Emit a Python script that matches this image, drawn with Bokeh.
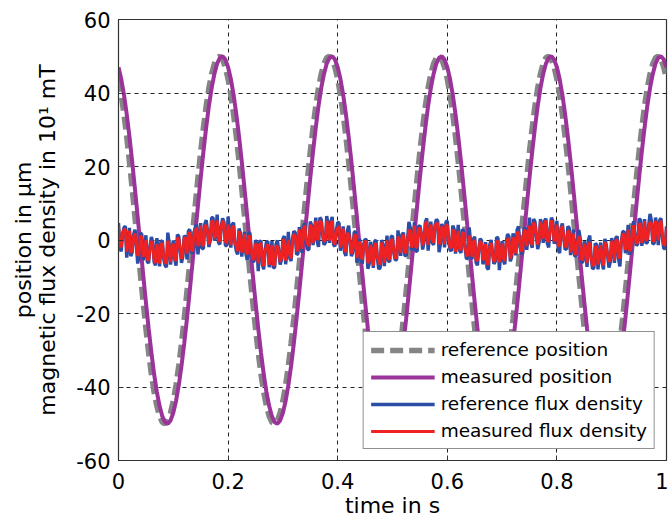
from bokeh.plotting import figure
from bokeh.models import Range1d, FixedTicker, Legend, LegendItem, LinearAxis
from bokeh.embed import file_html
from bokeh.resources import INLINE

# ---------------- data ----------------
# sampling grids of the recorded signals (s)
time_position = [round(i * 0.005, 4) for i in range(201)]
time_flux = [round(i * 0.0025, 4) for i in range(401)]

reference_position = [
    43.8, 39.5, 34.2, 28.1, 21.3, 13.9, 6.3, -1.6, -9.4, -16.9, -24.1, -30.6, -36.5, -41.4, -45.2, -48.0, -49.6, -50.0, -49.1, -47.0,
    -43.8, -39.5, -34.2, -28.1, -21.3, -13.9, -6.3, 1.6, 9.4, 16.9, 24.1, 30.6, 36.5, 41.4, 45.2, 48.0, 49.6, 50.0, 49.1, 47.0,
    43.8, 39.5, 34.2, 28.1, 21.3, 13.9, 6.3, -1.6, -9.4, -16.9, -24.1, -30.6, -36.5, -41.4, -45.2, -48.0, -49.6, -50.0, -49.1, -47.0,
    -43.8, -39.5, -34.2, -28.1, -21.3, -13.9, -6.3, 1.6, 9.4, 16.9, 24.1, 30.6, 36.5, 41.4, 45.2, 48.0, 49.6, 50.0, 49.1, 47.0,
    43.8, 39.5, 34.2, 28.1, 21.3, 13.9, 6.3, -1.6, -9.4, -16.9, -24.1, -30.6, -36.5, -41.4, -45.2, -48.0, -49.6, -50.0, -49.1, -47.0,
    -43.8, -39.5, -34.2, -28.1, -21.3, -13.9, -6.3, 1.6, 9.4, 16.9, 24.1, 30.6, 36.5, 41.4, 45.2, 48.0, 49.6, 50.0, 49.1, 47.0,
    43.8, 39.5, 34.2, 28.1, 21.3, 13.9, 6.3, -1.6, -9.4, -16.9, -24.1, -30.6, -36.5, -41.4, -45.2, -48.0, -49.6, -50.0, -49.1, -47.0,
    -43.8, -39.5, -34.2, -28.1, -21.3, -13.9, -6.3, 1.6, 9.4, 16.9, 24.1, 30.6, 36.5, 41.4, 45.2, 48.0, 49.6, 50.0, 49.1, 47.0,
    43.8, 39.5, 34.2, 28.1, 21.3, 13.9, 6.3, -1.6, -9.4, -16.9, -24.1, -30.6, -36.5, -41.4, -45.2, -48.0, -49.6, -50.0, -49.1, -47.0,
    -43.8, -39.5, -34.2, -28.1, -21.3, -13.9, -6.3, 1.6, 9.4, 16.9, 24.1, 30.6, 36.5, 41.4, 45.2, 48.0, 49.6, 50.0, 49.1, 47.0,
    43.8,
]

measured_position = [
    47.0, 43.8, 39.5, 34.2, 28.1, 21.3, 13.9, 6.3, -1.6, -9.4, -16.9, -24.1, -30.6, -36.5, -41.4, -45.2, -48.0, -49.6, -50.0, -49.1,
    -47.0, -43.8, -39.5, -34.2, -28.1, -21.3, -13.9, -6.3, 1.6, 9.4, 16.9, 24.1, 30.6, 36.5, 41.4, 45.2, 48.0, 49.6, 50.0, 49.1,
    47.0, 43.8, 39.5, 34.2, 28.1, 21.3, 13.9, 6.3, -1.6, -9.4, -16.9, -24.1, -30.6, -36.5, -41.4, -45.2, -48.0, -49.6, -50.0, -49.1,
    -47.0, -43.8, -39.5, -34.2, -28.1, -21.3, -13.9, -6.3, 1.6, 9.4, 16.9, 24.1, 30.6, 36.5, 41.4, 45.2, 48.0, 49.6, 50.0, 49.1,
    47.0, 43.8, 39.5, 34.2, 28.1, 21.3, 13.9, 6.3, -1.6, -9.4, -16.9, -24.1, -30.6, -36.5, -41.4, -45.2, -48.0, -49.6, -50.0, -49.1,
    -47.0, -43.8, -39.5, -34.2, -28.1, -21.3, -13.9, -6.3, 1.6, 9.4, 16.9, 24.1, 30.6, 36.5, 41.4, 45.2, 48.0, 49.6, 50.0, 49.1,
    47.0, 43.8, 39.5, 34.2, 28.1, 21.3, 13.9, 6.3, -1.6, -9.4, -16.9, -24.1, -30.6, -36.5, -41.4, -45.2, -48.0, -49.6, -50.0, -49.1,
    -47.0, -43.8, -39.5, -34.2, -28.1, -21.3, -13.9, -6.3, 1.6, 9.4, 16.9, 24.1, 30.6, 36.5, 41.4, 45.2, 48.0, 49.6, 50.0, 49.1,
    47.0, 43.8, 39.5, 34.2, 28.1, 21.3, 13.9, 6.3, -1.6, -9.4, -16.9, -24.1, -30.6, -36.5, -41.4, -45.2, -48.0, -49.6, -50.0, -49.1,
    -47.0, -43.8, -39.5, -34.2, -28.1, -21.3, -13.9, -6.3, 1.6, 9.4, 16.9, 24.1, 30.6, 36.5, 41.4, 45.2, 48.0, 49.6, 50.0, 49.1,
    47.0,
]

reference_flux = [
    4.6, -1.9, -3.1, 1.8, 3.3, 3.8, -4.8, -1.4, 3.3, -4.4, -3.3, 1.5, 2.8, -1.2, -6.4, -4.3, 1.9, 1.5, -5.5, -3.6,
    1.3, -5.9, -6.3, -1.6, 0.8, -0.6, -6.0, -6.9, 0.5, -2.8, -7.2, -0.4, -0.2, -5.1, -6.9, -7.4, 2.0, -0.9, -6.7, -2.7,
    -0.1, -5.1, -7.0, 1.5, 1.0, -2.8, -6.2, -4.4, 1.2, 0.8, -5.3, 2.4, 2.9, -3.2, -3.7, 1.4, 3.4, 4.2, -3.9, -0.1,
    4.6, -2.3, -2.3, 4.3, 5.4, 2.3, -1.9, -0.1, 6.1, 6.1, -0.2, 1.4, 6.9, -0.7, -1.2, 3.8, 5.9, 4.8, -1.4, -1.6,
    6.4, 2.2, -2.1, 4.2, 4.7, -0.9, -3.0, -3.9, 3.1, 1.9, -4.5, -0.7, 2.2, -3.8, -5.5, 1.9, 1.9, -3.2, -6.0, -5.7,
    0.0, -1.2, -8.5, -0.4, -0.3, -6.7, -8.0, -2.8, -0.5, -0.4, -7.4, -5.1, -0.3, -7.6, -7.4, -1.1, -0.1, -3.1, -6.7, -5.3,
    0.3, 1.1, -6.6, -3.2, 2.2, -4.9, -5.7, 0.3, 2.4, 2.0, -4.0, -3.7, 3.5, 0.9, -3.5, 3.8, 4.5, -0.5, -2.6, -2.6,
    5.0, 4.0, -1.4, 2.1, 6.1, -0.3, -1.9, 6.1, 5.6, 1.4, -1.3, -0.7, 6.5, 4.0, -0.8, 5.0, 6.3, -1.3, -1.7, 2.5,
    4.8, 4.6, -2.9, -0.5, 3.7, -3.4, -4.3, 2.4, 3.9, -0.3, -4.4, -3.3, 2.0, 2.4, -6.2, -2.8, 0.3, -5.3, -6.4, -1.0,
    0.2, 0.0, -7.8, -6.5, -0.5, -2.6, -7.6, -0.4, 0.0, -5.1, -7.9, -7.6, 0.0, -1.3, -7.1, -3.3, 1.2, -5.7, -5.9, 0.9,
    1.1, -3.6, -5.5, -5.3, 2.6, -0.2, -4.3, 1.5, 2.0, -4.1, -4.4, 0.4, 4.9, 3.3, -2.8, -0.9, 4.8, -3.0, -3.1, 3.7,
    3.9, 1.8, -2.6, -0.5, 4.9, 5.9, -2.9, 1.4, 5.0, -0.7, -1.3, 4.0, 5.6, 5.2, -3.3, -1.1, 4.4, 2.8, -2.0, 4.9,
    5.2, -0.1, -2.7, -3.0, 3.9, 2.9, -3.7, 0.2, 4.1, -2.9, -3.5, 2.9, 2.4, -2.3, -5.2, -4.9, 3.4, -0.6, -5.3, 0.2,
    0.9, -6.1, -6.9, -2.4, 0.4, -0.2, -6.6, -5.1, -0.6, -7.6, -8.0, -1.3, 0.0, -3.5, -6.5, -5.9, 0.8, 0.5, -8.2, -3.8,
    -0.3, -5.7, -6.6, -0.6, 1.6, 1.0, -5.8, -4.6, 1.8, 0.0, -4.2, 2.8, 3.7, -1.4, -3.9, -3.4, 3.0, 3.3, -2.7, 1.5,
    6.1, -0.8, -2.1, 5.7, 5.0, 1.2, -2.5, -0.7, 5.7, 4.0, -0.8, 5.2, 5.8, -0.9, -2.0, 3.0, 6.1, 5.2, -1.0, 0.2,
    5.2, -2.6, -3.6, 3.3, 4.5, 0.7, -2.6, -2.4, 3.7, 3.3, -4.1, -1.8, 2.8, -4.4, -4.4, -0.2, 2.7, 0.6, -6.2, -5.9,
    -0.4, -2.0, -7.3, 0.0, 1.2, -4.9, -7.8, -7.6, -0.9, -1.3, -8.0, -3.5, -0.7, -6.1, -8.0, 0.3, -1.2, -4.2, -7.5, -5.9,
    0.5, -1.0, -6.2, 0.6, 1.0, -5.1, -7.2, -0.5, 2.2, 2.4, -3.6, -1.9, 4.1, -3.9, -3.1, 2.9, 5.1, 1.1, -1.5, -1.1,
    5.8, 5.4, -1.6, 1.0, 5.7, -0.9, -0.7, 4.0, 7.1, 5.2, -1.1, -0.9, 6.1, 3.2, -1.4, 5.4, 5.9, 0.5, -2.3, -2.3,
    3.7,
]

measured_flux = [
    3.9, -1.2, -2.0, 1.6, 2.8, 3.0, -3.2, -1.1, 2.5, -3.5, -2.7, 0.9, 1.8, -1.3, -4.2, -3.8, 1.2, 0.6, -4.6, -3.4,
    0.0, -5.2, -5.6, -2.0, -0.3, -1.3, -5.5, -6.2, -1.1, -3.0, -6.4, -1.2, -0.8, -4.8, -5.9, -6.5, -0.2, -1.5, -6.0, -2.8,
    -1.0, -4.6, -5.7, 0.6, 0.3, -2.6, -5.1, -3.7, 0.7, 0.4, -3.7, 1.7, 2.1, -2.5, -3.1, 1.2, 2.4, 3.4, -1.7, 0.2,
    3.9, -1.4, -1.4, 3.7, 4.1, 2.2, -1.2, 0.4, 5.0, 5.2, 0.3, 1.6, 5.3, 0.0, -0.4, 3.4, 5.3, 4.1, -0.4, -0.9,
    4.2, 2.0, -1.4, 3.4, 3.8, -0.6, -1.7, -3.0, 2.4, 1.3, -3.4, -0.8, 1.7, -3.3, -3.9, 1.0, 1.1, -3.0, -5.4, -5.0,
    -1.0, -1.6, -6.3, -1.1, -1.0, -6.0, -7.1, -3.0, -1.8, -1.2, -6.7, -4.8, -1.4, -6.7, -6.9, -1.7, -1.7, -3.2, -5.9, -4.8,
    -0.3, 0.2, -5.6, -3.0, 0.0, -4.2, -5.0, -0.1, 1.5, 1.3, -2.7, -3.0, 2.8, 0.7, -2.4, 3.0, 4.0, -0.2, -1.0, -1.7,
    4.2, 3.4, -0.8, 2.0, 5.1, 0.2, 0.3, 5.2, 4.9, 1.6, -0.4, 0.0, 5.2, 3.6, -0.1, 4.3, 5.2, -0.6, -1.2, 2.3,
    3.2, 3.8, -2.1, -0.2, 3.1, -2.5, -3.3, 1.8, 1.7, -0.4, -3.7, -2.8, 1.1, 1.5, -4.9, -2.6, -0.4, -4.6, -5.3, -1.4,
    -0.3, -0.7, -6.2, -5.8, -1.3, -2.8, -7.0, -1.2, -1.0, -4.8, -5.7, -6.7, -0.7, -1.9, -6.2, -3.4, -0.1, -5.2, -5.2, 0.0,
    0.0, -3.4, -5.0, -4.6, 1.0, -0.6, -3.5, 0.8, 1.4, -3.4, -3.4, 0.2, 2.7, 2.5, -2.1, -0.6, 3.9, -2.1, -1.8, 3.1,
    3.2, 1.7, -1.5, 0.0, 4.4, 5.0, -1.3, 1.6, 4.2, 0.0, -0.7, 3.6, 4.6, 4.5, -1.1, -0.4, 3.7, 2.6, -1.1, 4.1,
    3.9, 0.2, -2.0, -2.1, 2.8, 2.3, -3.2, 0.1, 2.5, -2.4, -2.7, 2.0, 1.8, -2.1, -4.2, -4.2, 1.2, -1.0, -4.6, -0.5,
    0.0, -5.4, -5.6, -2.6, -0.3, -1.0, -5.5, -4.8, -1.1, -6.7, -6.4, -1.9, -0.8, -3.6, -5.9, -5.4, -0.2, -0.4, -6.0, -3.6,
    -1.0, -5.0, -5.7, -1.0, 0.3, 0.3, -5.1, -3.9, 0.7, -0.2, -3.7, 2.0, 2.1, -1.1, -3.1, -2.5, 2.4, 2.7, -1.7, 1.4,
    3.9, -0.3, -1.4, 4.8, 4.1, 1.4, -1.2, 0.0, 5.0, 3.6, 0.3, 4.5, 5.3, -0.2, -0.4, 2.8, 5.3, 4.4, -0.4, 0.5,
    4.2, -1.7, -1.4, 2.7, 3.8, 0.6, -1.7, -1.9, 2.4, 2.4, -3.4, -1.6, 1.7, -3.7, -3.9, -0.6, 1.1, -0.1, -5.4, -5.2,
    -1.0, -2.2, -6.3, -0.8, -1.0, -4.6, -7.1, -6.7, -1.8, -1.9, -6.7, -3.6, -1.4, -5.6, -6.9, -0.6, -1.7, -4.0, -5.9, -5.2,
    -0.3, -1.4, -5.6, -0.1, 0.0, -4.4, -5.0, -0.7, 1.5, 1.6, -2.7, -1.6, 2.8, -3.0, -2.4, 2.3, 4.0, 1.0, -1.0, -0.6,
    4.2, 4.5, -0.8, 1.2, 5.1, -0.2, 0.3, 3.6, 4.9, 4.5, -0.4, -0.2, 5.2, 3.0, -0.1, 4.6, 5.2, 0.8, -1.2, -1.4,
    3.2,
]

x_ticks = [0, 0.2, 0.4, 0.6, 0.8, 1]
x_tick_labels = ["0", "0.2", "0.4", "0.6", "0.8", "1"]
y_ticks = [-60, -40, -20, 0, 20, 40, 60]
y_tick_labels = ["-60", "-40", "-20", "0", "20", "40", "60"]

x_title = "time in s"
y_title_outer = "position in µm"
y_title_inner = "magnetic flux density in 10¹ mT"
series_names = ["reference position", "measured position",
                "reference flux density", "measured flux density"]

# ---------------- figure ----------------
FONT = "DejaVu Sans"

p = figure(width=668, height=523,
           x_range=Range1d(0, 1), y_range=Range1d(-60, 60),
           output_backend="svg", toolbar_location=None,
           min_border_left=118, min_border_right=2,
           min_border_top=19, min_border_bottom=63)

p.background_fill_color = "white"
p.border_fill_color = "white"
p.outline_line_color = "#333333"
p.outline_line_width = 1.2

r_ref_pos = p.line(time_position, reference_position, line_color="#858585",
                   line_width=5.5, line_dash="13 6")
r_meas_pos = p.line(time_position, measured_position, line_color="#9b339b",
                    line_width=4)
r_ref_flux = p.line(time_flux, reference_flux, line_color="#2c4da6",
                    line_width=3.4)
r_meas_flux = p.line(time_flux, measured_flux, line_color="#ee2222",
                     line_width=3.0)

# axes
def style_axis(ax):
    ax.major_label_text_font = FONT
    ax.major_label_text_font_size = "21px"
    ax.major_label_text_color = "black"
    ax.axis_label_text_font = FONT
    ax.axis_label_text_font_size = "22px"
    ax.axis_label_text_font_style = "normal"
    ax.axis_label_text_color = "black"
    ax.axis_line_color = "#333333"
    ax.major_tick_line_color = "#333333"
    ax.major_tick_in = 5
    ax.major_tick_out = 0
    ax.minor_tick_line_color = None

xa = p.xaxis[0]
ya = p.yaxis[0]
style_axis(xa)
style_axis(ya)

xa.ticker = FixedTicker(ticks=x_ticks)
xa.major_label_overrides = {t: l for t, l in zip(x_ticks, x_tick_labels)}
xa.axis_label = x_title
xa.major_label_standoff = 12
xa.axis_label_standoff = 1

ya.ticker = FixedTicker(ticks=y_ticks)
ya.major_label_overrides = {t: l for t, l in zip(y_ticks, y_tick_labels)}
ya.axis_label = y_title_inner
ya.major_label_standoff = 8
ya.axis_label_standoff = 13

# second (outer) line of the y title, as a tick-less axis
ya2 = LinearAxis(ticker=FixedTicker(ticks=[]), axis_label=y_title_outer)
style_axis(ya2)
ya2.axis_line_color = None
ya2.major_tick_in = 0
ya2.major_label_standoff = 0
ya2.axis_label_standoff = -3
p.add_layout(ya2, "left")

# grid
for g in (p.xgrid[0], p.ygrid[0]):
    g.grid_line_color = "#222222"
    g.grid_line_width = 1
    g.grid_line_dash = "4 4"

# legend
legend = Legend(items=[
    LegendItem(label=series_names[0], renderers=[r_ref_pos]),
    LegendItem(label=series_names[1], renderers=[r_meas_pos]),
    LegendItem(label=series_names[2], renderers=[r_ref_flux]),
    LegendItem(label=series_names[3], renderers=[r_meas_flux]),
], location="bottom_right")
legend.label_text_font = FONT
legend.label_text_font_size = "18.5px"
legend.label_text_color = "black"
legend.glyph_width = 64
legend.glyph_height = 20
legend.label_height = 20
legend.label_standoff = 6
legend.spacing = 6
legend.padding = 7
legend.margin = 11
legend.border_line_color = "#222222"
legend.border_line_width = 1
legend.background_fill_alpha = 1
p.add_layout(legend, "center")

open("out.html", "w").write(file_html(p, INLINE))
